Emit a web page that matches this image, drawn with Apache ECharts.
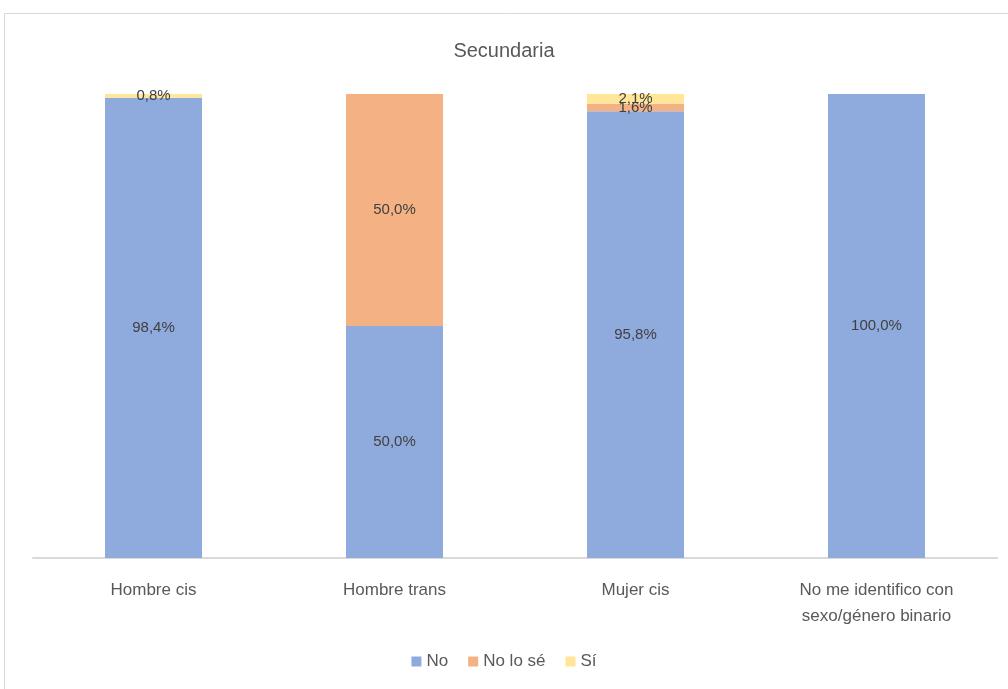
<!DOCTYPE html>
<html><head><meta charset="utf-8">
<script src="https://cdn.jsdelivr.net/npm/echarts@6/dist/echarts.min.js"></script>
<style>html,body{margin:0;padding:0;background:#fff}#c{width:1008px;height:689px}</style>
</head><body><div id="c"></div>
<script>
const categories = ['Hombre cis', 'Hombre trans', 'Mujer cis', 'No me identifico con\nsexo/género binario'];
const seriesNames = ['No', 'No lo sé', 'Sí'];
const valNo = [98.4, 50.0, 95.8, 100.0];
const valNoLoSe = [0, 50.0, 1.6, 0];
const valSi = [0.8, 0, 2.1, 0];
const colors = ['#8faadc', '#f4b183', '#ffe699'];

const raw = [valNo, valNoLoSe, valSi];
// 100% stacked: bar height is share of category total; label shows the read value
const totals = categories.map((_, i) => raw.reduce((s, a) => s + a[i], 0));
const FONT = '"Liberation Sans", Arial, sans-serif';

const series = raw.map((arr, k) => ({
  name: seriesNames[k],
  type: 'bar',
  stack: 'total',
  barWidth: 97,
  itemStyle: { color: colors[k] },
  label: {
    show: true,
    position: 'inside',
    color: '#404040',
    fontFamily: FONT,
    fontSize: 15,
    formatter: p => arr[p.dataIndex] > 0 ? arr[p.dataIndex].toFixed(1).replace('.', ',') + '%' : ''
  },
  data: arr.map((v, i) => v > 0 ? v / totals[i] * 100 : null)
}));

const chart = echarts.init(document.getElementById('c'));
chart.setOption({
  animation: false,
  backgroundColor: '#fff',
  graphic: [{ type: 'rect', shape: { x: 4.5, y: 13.5, width: 1020, height: 700 }, style: { fill: 'none', stroke: '#d9d9d9', lineWidth: 1 } }],
  title: { text: 'Secundaria', left: 'center', top: 36, textStyle: { color: '#595959', fontFamily: FONT, fontSize: 20, fontWeight: 'normal' } },
  legend: { bottom: 14, left: 'center', itemWidth: 10, itemHeight: 10, itemGap: 20, icon: 'rect',
    textStyle: { color: '#595959', fontFamily: FONT, fontSize: 17 }, data: seriesNames },
  grid: { left: 33, right: 11, top: 94, bottom: 131 },
  xAxis: { type: 'category', data: categories,
    axisLine: { lineStyle: { color: '#d9d9d9', width: 2 } }, axisTick: { show: false },
    axisLabel: { color: '#595959', fontFamily: FONT, fontSize: 17, margin: 19, lineHeight: 26, interval: 0 } },
  yAxis: { type: 'value', min: 0, max: 100, show: false, splitLine: { show: false } },
  series: series
});
</script></body></html>
